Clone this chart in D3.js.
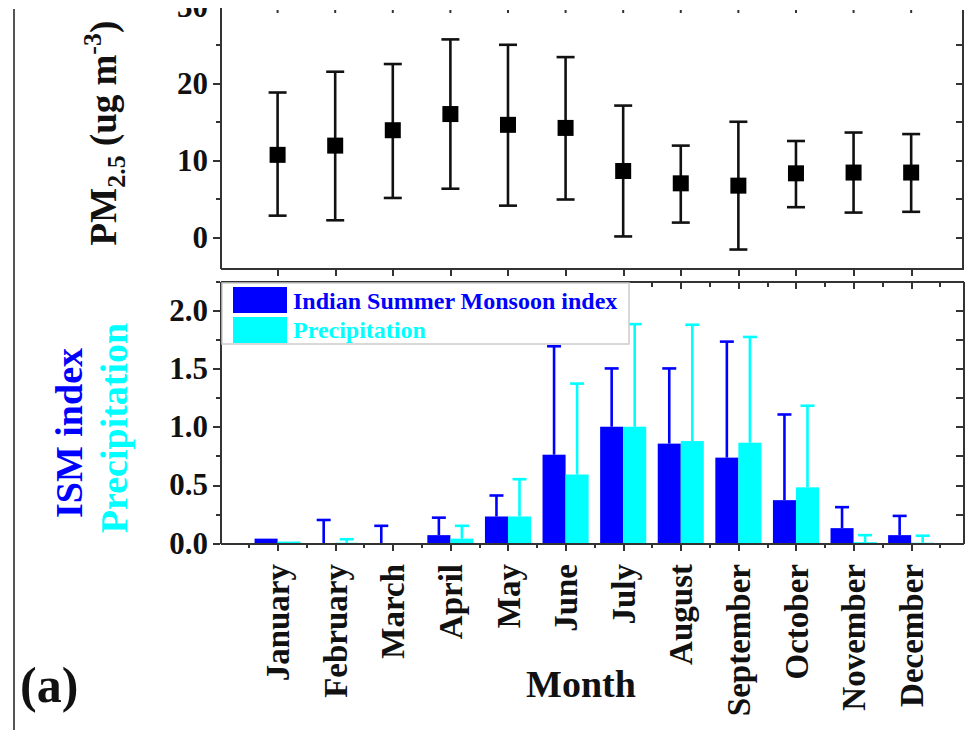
<!DOCTYPE html>
<html>
<head>
<meta charset="utf-8">
<script src="https://cdn.jsdelivr.net/npm/d3@7"></script>
<style>
  html, body { margin: 0; padding: 0; background: #fff; }
  svg { display: block; font-family: "Liberation Serif", "Times New Roman", serif; font-weight: bold; }
  .axis path, .axis line { stroke: #333; stroke-width: 2; shape-rendering: crispEdges; }
  .axis text { font-family: "Liberation Serif", "Times New Roman", serif; font-weight: bold; font-size: 31px; fill: #111; }
</style>
</head>
<body>
<svg id="chart" width="976" height="730"></svg>
<script>
// monthly data
const months = ['January', 'February', 'March', 'April', 'May', 'June',
                'July', 'August', 'September', 'October', 'November', 'December'];

const pmMean = [10.7, 11.9, 13.9, 16.0, 14.6, 14.2, 8.6, 7.0, 6.7, 8.3, 8.4, 8.4];
const pmHigh = [18.8, 21.5, 22.5, 25.7, 25.0, 23.4, 17.1, 11.9, 15.0, 12.5, 13.6, 13.4];
const pmLow  = [2.8, 2.2, 5.1, 6.3, 4.1, 4.9, 0.1, 1.9, -1.6, 3.9, 3.2, 3.3];

const ismMean = [0.04, 0.0, 0.0, 0.07, 0.23, 0.76, 1.0, 0.855, 0.735, 0.37, 0.13, 0.07];
const ismTop  = [0.04, 0.20, 0.15, 0.22, 0.41, 1.69, 1.50, 1.50, 1.73, 1.105, 0.31, 0.235];

const precipMean = [0.015, 0.005, 0.0, 0.04, 0.23, 0.59, 1.0, 0.877, 0.863, 0.48, 0.01, 0.005];
const precipTop  = [0.015, 0.035, 0.0, 0.15, 0.55, 1.37, 1.88, 1.875, 1.77, 1.18, 0.07, 0.065];

const pmTicks = [0, 10, 20, 30];
const pmMinor = [5, 15, 25];
const ismTicks = [0, 0.5, 1.0, 1.5, 2.0];
const ismMinor = [0.25, 0.75, 1.25, 1.75, 2.25];

const BLUE = '#0000ff', CYAN = '#00ffff';

const svg = d3.select('#chart');

// shared x
const left = 220, right = 963;
const x = d3.scaleLinear().domain([0, 12.9]).range([left, right]);
const monthIdx = d3.range(1, 13);
const halfIdx = d3.range(0.5, 13, 1);

// ---------- top panel ----------
const yTop = d3.scaleLinear().domain([-4, 30]).range([268, 6.3]);

svg.append('g').attr('class', 'axis')
  .attr('transform', `translate(${left},0)`)
  .call(d3.axisLeft(yTop).tickValues(pmTicks).tickSize(7).tickSizeOuter(0).tickPadding(5).tickFormat(d3.format('d')));
svg.append('g').attr('class', 'axis')
  .attr('transform', `translate(${left},0)`)
  .call(d3.axisLeft(yTop).tickValues(pmMinor).tickSize(4).tickSizeOuter(0).tickFormat(''));
svg.append('g').attr('class', 'axis')
  .attr('transform', `translate(${right},0)`)
  .call(d3.axisLeft(yTop).tickValues(pmMinor.concat(pmTicks.slice(0, 3))).tickSize(7).tickSizeOuter(0).tickFormat(''))
  .select('.domain').attr('d', `M0,${yTop(29.5)}V${yTop(-4)}`);
svg.append('g').attr('class', 'axis')
  .attr('transform', `translate(0,${yTop(-4)})`)
  .call(d3.axisBottom(x).tickValues(monthIdx).tickSize(8).tickSizeOuter(0).tickFormat(''));

// tiny ticks along the cut-off top edge
svg.append('g').selectAll('line').data(monthIdx).join('line')
  .attr('x1', d => x(d)).attr('x2', d => x(d))
  .attr('y1', 10).attr('y2', 13)
  .attr('stroke', '#333').attr('stroke-width', 2);

const pm = svg.append('g');
const cap = 9;
months.forEach((m, i) => {
  const cx = x(i + 1);
  const g = pm.append('g');
  g.append('line').attr('x1', cx).attr('x2', cx)
    .attr('y1', yTop(pmLow[i])).attr('y2', yTop(pmHigh[i]));
  g.append('line').attr('x1', cx - cap).attr('x2', cx + cap)
    .attr('y1', yTop(pmHigh[i])).attr('y2', yTop(pmHigh[i]));
  g.append('line').attr('x1', cx - cap).attr('x2', cx + cap)
    .attr('y1', yTop(pmLow[i])).attr('y2', yTop(pmLow[i]));
  g.selectAll('line').attr('stroke', '#111').attr('stroke-width', 2.6);
  g.append('rect').attr('x', cx - 8).attr('y', yTop(pmMean[i]) - 8)
    .attr('width', 16).attr('height', 16).attr('fill', '#000');
});

// ---------- bottom panel ----------
const yBot = d3.scaleLinear().domain([0, 2.25]).range([543.3, 281]);

svg.append('g').attr('class', 'axis')
  .attr('transform', `translate(${left},0)`)
  .call(d3.axisLeft(yBot).tickValues(ismTicks).tickSize(7).tickSizeOuter(0).tickPadding(5).tickFormat(d3.format('.1f')));
svg.append('g').attr('class', 'axis')
  .attr('transform', `translate(${left},0)`)
  .call(d3.axisLeft(yBot).tickValues(ismMinor).tickSize(4).tickSizeOuter(0).tickFormat(''));
svg.append('g').attr('class', 'axis')
  .attr('transform', `translate(${right},0)`)
  .call(d3.axisLeft(yBot).tickValues(ismTicks.concat(ismMinor)).tickSize(7).tickSizeOuter(0).tickFormat(''));
// top border with inward ticks
svg.append('g').attr('class', 'axis')
  .attr('transform', `translate(0,${yBot(2.25)})`)
  .call(d3.axisBottom(x).tickValues(monthIdx).tickSize(8).tickSizeOuter(0).tickFormat(''));
svg.append('g').attr('class', 'axis')
  .attr('transform', `translate(0,${yBot(2.25)})`)
  .call(d3.axisBottom(x).tickValues(halfIdx).tickSize(6).tickSizeOuter(0).tickFormat(''));

// bars
const bw = x(1.4) - x(1);
const bars = svg.append('g');
bars.selectAll('rect.ism').data(ismMean).join('rect')
  .attr('x', (d, i) => x(i + 1) - bw).attr('width', bw)
  .attr('y', d => yBot(d)).attr('height', d => yBot(0) - yBot(d))
  .attr('fill', BLUE);
bars.selectAll('rect.pr').data(precipMean).join('rect')
  .attr('x', (d, i) => x(i + 1)).attr('width', bw)
  .attr('y', d => yBot(d)).attr('height', d => yBot(0) - yBot(d))
  .attr('fill', CYAN);

function errBars(mean, top, off, color) {
  const g = svg.append('g').attr('stroke', color).attr('stroke-width', 2.6);
  mean.forEach((v, i) => {
    if (top[i] - v < 0.005) return;
    const cx = x(i + 1) + off;
    g.append('line').attr('x1', cx).attr('x2', cx).attr('y1', yBot(v)).attr('y2', yBot(top[i]));
    g.append('line').attr('x1', cx - 7).attr('x2', cx + 7).attr('y1', yBot(top[i])).attr('y2', yBot(top[i]));
  });
}
errBars(ismMean, ismTop, -bw / 2, BLUE);
errBars(precipMean, precipTop, bw / 2, CYAN);

// bottom axis
svg.append('g').attr('class', 'axis')
  .attr('transform', `translate(0,${yBot(0)})`)
  .call(d3.axisBottom(x).tickValues(monthIdx).tickSize(8).tickSizeOuter(0).tickFormat(''));
svg.append('g').attr('class', 'axis')
  .attr('transform', `translate(0,${yBot(0)})`)
  .call(d3.axisBottom(x).tickValues(halfIdx).tickSize(5).tickSizeOuter(0).tickFormat(''));

// month labels
svg.append('g').selectAll('text').data(months).join('text')
  .attr('transform', (d, i) => `translate(${x(i + 1)},564) rotate(-90)`)
  .attr('text-anchor', 'end').attr('dy', '0.35em')
  .attr('font-size', 33).attr('fill', '#111')
  .text(d => d);

svg.append('text').attr('x', 581).attr('y', 697)
  .attr('text-anchor', 'middle').attr('font-size', 38).attr('fill', '#111')
  .text('Month');

// legend
const leg = svg.append('g');
leg.append('rect').attr('x', left + 2).attr('y', 283).attr('width', 407).attr('height', 61)
  .attr('fill', '#fff').attr('stroke', '#ccc').attr('stroke-width', 1.5);
[[BLUE, 'Indian Summer Monsoon index'], [CYAN, 'Precipitation']].forEach(([c, t], k) => {
  leg.append('rect').attr('x', 233).attr('y', 287 + k * 30).attr('width', 54).attr('height', 26).attr('fill', c);
  leg.append('text').attr('x', 293).attr('y', 309 + k * 29).attr('font-size', 24).attr('fill', c).text(t);
});

// y titles
const pmT = svg.append('text')
  .attr('transform', 'translate(116,133) rotate(-90)')
  .attr('text-anchor', 'middle').attr('font-size', 37).attr('fill', '#111');
pmT.append('tspan').text('PM');
pmT.append('tspan').attr('font-size', 26).attr('dy', 9).text('2.5');
pmT.append('tspan').attr('dy', -9).text(' (ug m');
pmT.append('tspan').attr('font-size', 26).attr('dy', -15).text('-3');
pmT.append('tspan').attr('dy', 15).text(')');

svg.append('text').attr('transform', 'translate(82,433) rotate(-90)')
  .attr('text-anchor', 'middle').attr('font-size', 38).attr('fill', BLUE).text('ISM index');
svg.append('text').attr('transform', 'translate(127,428) rotate(-90)')
  .attr('text-anchor', 'middle').attr('font-size', 38).attr('fill', CYAN).text('Precipitation');

// panel label
svg.append('text').attr('x', 20).attr('y', 702).attr('font-size', 50).attr('fill', '#111').text('(a)');

// the figure is cropped: blank strip along the top edge
svg.append('rect').attr('x', 0).attr('y', 0).attr('width', 976).attr('height', 8).attr('fill', '#fff');
svg.append('line').attr('x1', 14).attr('x2', 14).attr('y1', 9).attr('y2', 730)
  .attr('stroke', '#555').attr('stroke-width', 2);
</script>
</body>
</html>
